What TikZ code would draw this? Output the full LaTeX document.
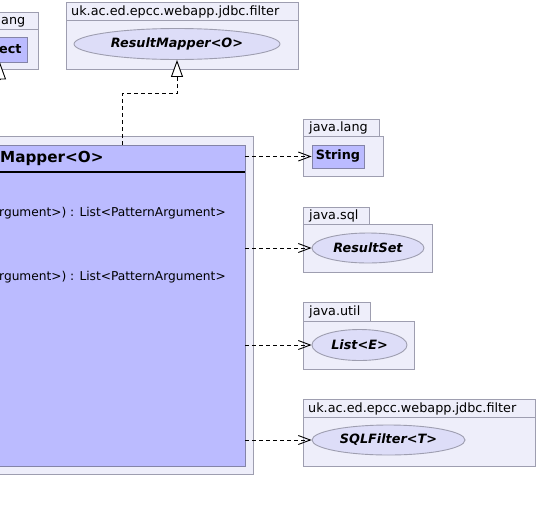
\documentclass[tikz,border=0pt]{standalone}
\usepackage{fontspec}
\setmainfont{DejaVu Sans}
\usepackage{tikz}
\usetikzlibrary{shapes.geometric}
\usetikzlibrary{arrows.meta}
\usetikzlibrary{positioning}

\definecolor{pkgfill}{RGB}{238,238,250}
\definecolor{pkgline}{RGB}{158,158,176}
\definecolor{clsfill}{RGB}{187,187,255}
\definecolor{clsline}{RGB}{132,132,168}
\definecolor{ifcfill}{RGB}{221,221,248}

\tikzset{
  pkg/.style={draw=pkgline, fill=pkgfill, line width=0.9pt},
  pkglabel/.style={anchor=west, inner sep=0pt, font=\fontsize{12.8}{15}\selectfont},
  cls/.style={draw=clsline, fill=clsfill, line width=0.9pt, inner sep=0pt, font=\fontsize{12.8}{15}\selectfont\bfseries},
  ifc/.style={ellipse, draw=pkgline, fill=ifcfill, line width=0.9pt, inner sep=0pt, font=\fontsize{12.8}{15}\selectfont\bfseries\itshape},
  dep/.style={dash pattern=on 4pt off 3pt, line width=0.9pt, -{Straight Barb[length=12pt,width=9pt,line width=0.9pt]}},
  gen/.style={dash pattern=on 4pt off 3pt, line width=0.9pt, -{Triangle[open,length=17pt,width=12pt,fill=white,line width=0.9pt]}}
}

\begin{document}
\begin{tikzpicture}[x=1pt,y=-1pt]
        \useasboundingbox (0,0) rectangle (538,512);
        \clip (0,0) rectangle (538,512);

        % java.lang, cut at the left edge
        \draw[pkg] (-20,12) rectangle (38,69);
        \draw[pkgline, line width=0.9pt] (-20,29) -- (38,29);
        \node[pkglabel] (langtab) at (1,22.5) {ang};
        \node[cls, anchor=east, minimum height=25, inner xsep=6pt] (obj) at (28,49.5) {ect};
        \coordinate (objfoot) at (0,80);
        \draw[gen, solid] (objfoot) -- (objfoot |- obj.south);

        % the mapper class
        \draw[pkg] (-20,136) rectangle (253,474);
        \node[cls, minimum width=246, minimum height=321] (mapper) at (122,305.5) {};
        \draw[line width=2pt] (mapper.west |- 0,172) -- (mapper.east |- 0,172);
        \node[anchor=west, inner sep=0pt, font=\fontsize{15.2}{18}\selectfont\bfseries] (mapname) at (0,158.5) {Mapper<O>};
        \node[pkglabel, font=\fontsize{12.2}{14}\selectfont] (op1) at (-1,213) {rgument>) : List<PatternArgument>};
        \node[pkglabel, font=\fontsize{12.2}{14}\selectfont] (op2) at (-1,277) {rgument>) : List<PatternArgument>};

        % uk.ac.ed.epcc.webapp.jdbc.filter (top)
        \draw[pkg] (66,2) rectangle (298,69);
        \draw[pkgline, line width=0.9pt] (66,20) -- (298,20);
        \node[pkglabel] (filtab1) at (71,11.5) {uk.ac.ed.epcc.webapp.jdbc.filter};
        \node[ifc, minimum width=206, minimum height=31] (rmap) at (177,44) {ResultMapper<O>};
        \draw[gen] (mapper.north) -- ++(0,-51) -| (rmap.south);

        % java.lang
        \draw[pkg] (303,119) rectangle (379,136);
        \draw[pkg] (303,136) rectangle (383,176);
        \node[pkglabel] (langtab2) at (309,128) {java.lang};
        \node[cls, minimum width=52, minimum height=23] (str) at (338,156.5) {String};

        % java.sql
        \draw[pkg] (303,207) rectangle (369,224);
        \draw[pkg] (303,224) rectangle (432,272);
        \node[pkglabel] (sqltab) at (309,216) {java.sql};
        \node[ifc, minimum width=112, minimum height=30] (rset) at (368,248) {ResultSet};

        % java.util
        \draw[pkg] (303,302) rectangle (370,321);
        \draw[pkg] (303,321) rectangle (414,369);
        \node[pkglabel] (utiltab) at (309,312) {java.util};
        \node[ifc, minimum width=95, minimum height=31] (list) at (359.5,345) {List<E>};

        % uk.ac.ed.epcc.webapp.jdbc.filter (bottom)
        \draw[pkg] (303,399) rectangle (535,417);
        \draw[pkg] (303,417) rectangle (535,466);
        \node[pkglabel] (filtab2) at (308,408.5) {uk.ac.ed.epcc.webapp.jdbc.filter};
        \node[ifc, minimum width=153, minimum height=30] (sqlf) at (388.5,440) {SQLFilter<T>};

        \draw[dep] (mapper.east |- str.west) -- (str.west);
        \draw[dep] (mapper.east |- rset.west) -- (rset.west);
        \draw[dep] (mapper.east |- list.west) -- (list.west);
        \draw[dep] (mapper.east |- sqlf.west) -- (sqlf.west);
\end{tikzpicture}
\end{document}
